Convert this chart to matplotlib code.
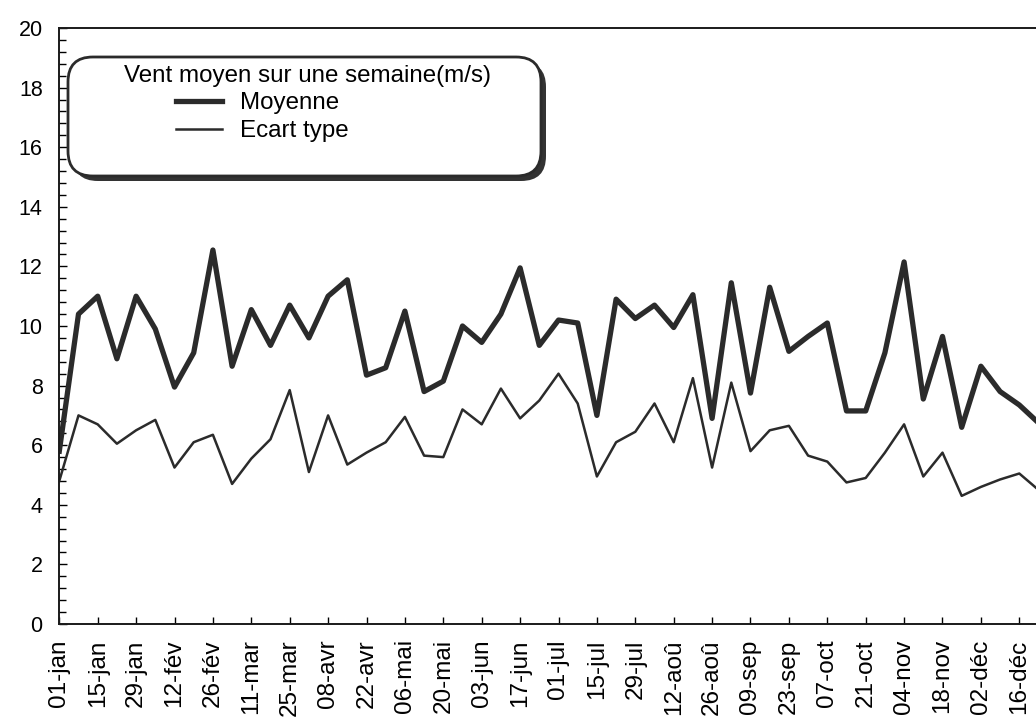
import numpy as np
import matplotlib
matplotlib.use("Agg")
import matplotlib.pyplot as plt
from matplotlib.ticker import MultipleLocator
from matplotlib.patches import FancyBboxPatch

plt.rcParams['font.family'] = ['Liberation Sans', 'DejaVu Sans']

# --- data -------------------------------------------------------------
semaines = np.arange(52)
moyenne = [5.8, 10.4, 11.0, 8.9, 11.0, 9.9, 7.95, 9.1, 12.55, 8.65,
           10.55, 9.35, 10.7, 9.6, 11.0, 11.55, 8.35, 8.6, 10.5, 7.8,
           8.15, 10.0, 9.45, 10.4, 11.95, 9.35, 10.2, 10.1, 7.0, 10.9,
           10.25, 10.7, 9.95, 11.05, 6.9, 11.45, 7.75, 11.3, 9.15, 9.65,
           10.1, 7.15, 7.15, 9.1, 12.15, 7.55, 9.65, 6.6, 8.65, 7.8,
           7.35, 6.75]
ecart_type = [4.8, 7.0, 6.7, 6.05, 6.5, 6.85, 5.25, 6.1, 6.35, 4.7,
              5.55, 6.2, 7.85, 5.1, 7.0, 5.35, 5.75, 6.1, 6.95, 5.65,
              5.6, 7.2, 6.7, 7.9, 6.9, 7.5, 8.4, 7.4, 4.95, 6.1,
              6.45, 7.4, 6.1, 8.25, 5.25, 8.1, 5.8, 6.5, 6.65, 5.65,
              5.45, 4.75, 4.9, 5.75, 6.7, 4.95, 5.75, 4.3, 4.6, 4.85,
              5.05, 4.5]
tick_labels = ['01-jan', '15-jan', '29-jan', '12-fév', '26-fév', '11-mar',
               '25-mar', '08-avr', '22-avr', '06-mai', '20-mai', '03-jun',
               '17-jun', '01-jul', '15-jul', '29-jul', '12-aoû', '26-aoû',
               '09-sep', '23-sep', '07-oct', '21-oct', '04-nov', '18-nov',
               '02-déc', '16-déc']
titre_legende = 'Vent moyen sur une semaine(m/s)'
noms_series = ['Moyenne', 'Ecart type']

# --- figure -----------------------------------------------------------
W, H = 1036, 720
fig = plt.figure(figsize=(W / 100, H / 100), dpi=100)
x0_px, y0_px, ytop_px = 59.3, 624, 28
ax = fig.add_axes([x0_px / W, 1 - y0_px / H, 1 - x0_px / W, (y0_px - ytop_px) / H])

col = '#2b2b2b'
l1, = ax.plot(semaines, moyenne, color=col, lw=3.8, label=noms_series[0])
l2, = ax.plot(semaines, ecart_type, color=col, lw=1.8, label=noms_series[1])

ax.set_xlim(0, (W - x0_px) / 19.2)
ax.set_ylim(0, 20)
ax.set_xticks(semaines[::2][:len(tick_labels)])
ax.set_xticklabels(tick_labels, rotation=90, fontsize=17.5)
ax.yaxis.set_major_locator(MultipleLocator(2))
ax.yaxis.set_minor_locator(MultipleLocator(0.4))
ax.tick_params(axis='y', which='major', direction='in', length=6, width=1,
               labelsize=15.5, pad=12)
ax.tick_params(axis='y', which='minor', direction='in', length=5, width=1)
ax.tick_params(axis='x', which='major', direction='in', length=5, width=1, pad=11)
ax.spines['right'].set_visible(False)
for s in ['left', 'bottom', 'top']:
    ax.spines[s].set_linewidth(1.4)
    ax.spines[s].set_color('#1a1a1a')

# --- legend box -------------------------------------------------------
def px(x, y):
    return x / W, 1 - y / H

bx0, bx1, by0, by1 = 68, 541, 57, 176
shadow = FancyBboxPatch(((bx0 + 5) / W, 1 - (by1 + 5) / H), (bx1 - bx0) / W, (by1 - by0) / H,
                        boxstyle='round,pad=0,rounding_size=0.024', transform=fig.transFigure,
                        facecolor='#333333', edgecolor='none', zorder=5,
                        mutation_aspect=W / H)
box = FancyBboxPatch((bx0 / W, 1 - by1 / H), (bx1 - bx0) / W, (by1 - by0) / H,
                     boxstyle='round,pad=0,rounding_size=0.024', transform=fig.transFigure,
                     facecolor='white', edgecolor=col, lw=2, zorder=6,
                     mutation_aspect=W / H)
fig.patches.extend([shadow, box])

fig.text(*px(307, 76), titre_legende, ha='center', va='center', fontsize=17.4,
         zorder=7)
leg = fig.legend(handles=[l1, l2], labels=noms_series, loc='upper left',
                 bbox_to_anchor=px(176, 92), frameon=False, fontsize=17.4,
                 handlelength=1.9, handletextpad=0.75, labelspacing=0.25,
                 borderpad=0, borderaxespad=0)
leg.set_zorder(8)

fig.savefig('out.png', dpi=100)
